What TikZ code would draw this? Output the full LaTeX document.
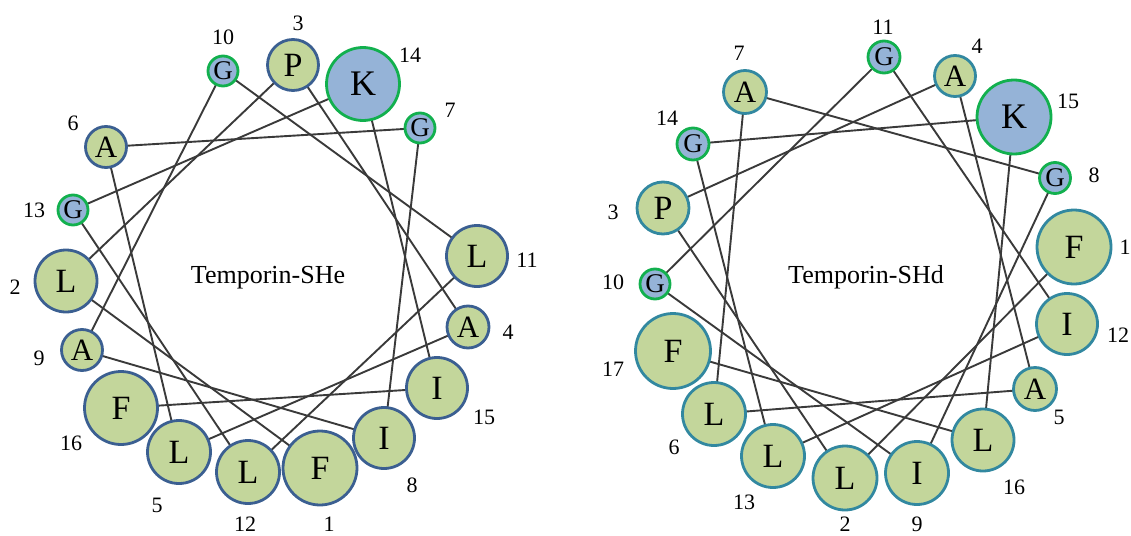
\documentclass[tikz,border=0pt]{standalone}
\usepackage{fontspec}
\setmainfont{Liberation Serif}
\pgfdeclarelayer{background}
\pgfsetlayers{background,main}
\definecolor{resgreen}{HTML}{C3D69B}
\definecolor{resblue}{HTML}{95B3D7}
\definecolor{rimblue}{HTML}{3B5F91}
\definecolor{rimgreen}{HTML}{12B04E}
\definecolor{rimteal}{HTML}{3288A0}
\definecolor{bond}{HTML}{3A3A3A}
\tikzset{
  res/.style={circle, inner sep=0pt, line width=2.8pt, text=black},
  hydA/.style={res, fill=resgreen, draw=rimblue},
  hydB/.style={res, fill=resgreen, draw=rimteal},
  pol/.style={res, fill=resblue, draw=rimgreen},
  fs/.style={font=\fontsize{#1}{#1}\selectfont},
  num/.style={inner sep=0pt, fs=22},
  title/.style={inner sep=0pt, anchor=base, fs=26},
  link/.style={draw=bond, line width=1.9pt, line cap=round}
}
\begin{document}
\begin{tikzpicture}[x=1pt, y=-1pt]
\useasboundingbox (0,0) rectangle (1131,535);

% ---------- Temporin-SHe ----------
\node[title] (tHe) at (268,283) {Temporin-SHe};
\node[hydA, minimum size=74pt, fs=34] (a1)  at (320,468) {F};
\node[hydA, minimum size=62pt, fs=34] (a2)  at (66,281)  {L};
\node[hydA, minimum size=51pt, fs=34] (a3)  at (293,65)  {P};
\node[hydA, minimum size=42pt, fs=31] (a4)  at (468,327) {A};
\node[hydA, minimum size=63pt, fs=34] (a5)  at (179,452) {L};
\node[hydA, minimum size=41pt, fs=31] (a6)  at (106,147) {A};
\node[pol,  minimum size=30pt, fs=27] (a7)  at (420,128) {G};
\node[hydA, minimum size=61pt, fs=34] (a8)  at (384,438) {I};
\node[hydA, minimum size=41pt, fs=31] (a9)  at (82,350)  {A};
\node[pol,  minimum size=30pt, fs=27] (a10) at (223,71)  {G};
\node[hydA, minimum size=61pt, fs=34] (a11) at (477,256) {L};
\node[hydA, minimum size=63pt, fs=34] (a12) at (248,472) {L};
\node[pol,  minimum size=30pt, fs=27] (a13) at (73,210)  {G};
\node[pol,  minimum size=73pt, fs=36] (a14) at (363,84)  {K};
\node[hydA, minimum size=61pt, fs=34] (a15) at (437,388) {I};
\node[hydA, minimum size=73pt, fs=34] (a16) at (121,408) {F};

\node[num] (na1)  at (329,524) {1};
\node[num] (na2)  at (15,287)  {2};
\node[num] (na3)  at (298,23)  {3};
\node[num] (na4)  at (508,332) {4};
\node[num] (na5)  at (157,505) {5};
\node[num] (na6)  at (73,123)  {6};
\node[num] (na7)  at (450,110) {7};
\node[num] (na8)  at (412,485) {8};
\node[num] (na9)  at (39,358)  {9};
\node[num] (na10) at (223,37)  {10};
\node[num] (na11) at (527,260) {11};
\node[num] (na12) at (245,524) {12};
\node[num] (na13) at (34,210)  {13};
\node[num] (na14) at (410,55)  {14};
\node[num] (na15) at (484,417) {15};
\node[num] (na16) at (71,443)  {16};

% ---------- Temporin-SHd ----------
\node[title] (tHd) at (866,283) {Temporin-SHd};
\node[hydB, minimum size=74pt, fs=34] (b1)  at (1074,247) {F};
\node[hydB, minimum size=64pt, fs=34] (b2)  at (845,478)  {L};
\node[hydB, minimum size=52pt, fs=34] (b3)  at (663,208)  {P};
\node[hydB, minimum size=41pt, fs=31] (b4)  at (955,76)   {A};
\node[hydB, minimum size=43pt, fs=31] (b5)  at (1035,389) {A};
\node[hydB, minimum size=63pt, fs=34] (b6)  at (714,414)  {L};
\node[hydB, minimum size=43pt, fs=31] (b7)  at (745,92)   {A};
\node[pol,  minimum size=31pt, fs=27] (b8)  at (1055,178) {G};
\node[hydB, minimum size=63pt, fs=34] (b9)  at (917,473)  {I};
\node[pol,  minimum size=30pt, fs=27] (b10) at (655,284)  {G};
\node[pol,  minimum size=32pt, fs=27] (b11) at (884,57)   {G};
\node[hydB, minimum size=61pt, fs=34] (b12) at (1067,324) {I};
\node[hydB, minimum size=63pt, fs=34] (b13) at (773,456)  {L};
\node[pol,  minimum size=32pt, fs=27] (b14) at (693,144)  {G};
\node[pol,  minimum size=74pt, fs=36] (b15) at (1014,117) {K};
\node[hydB, minimum size=62pt, fs=34] (b16) at (983,440)  {L};
\node[hydB, minimum size=75pt, fs=34] (b17) at (673,351)  {F};

\node[num] (nb1)  at (1125,247) {1};
\node[num] (nb2)  at (845,524)  {2};
\node[num] (nb3)  at (613,212)  {3};
\node[num] (nb4)  at (977,46)   {4};
\node[num] (nb5)  at (1059,417) {5};
\node[num] (nb6)  at (674,447)  {6};
\node[num] (nb7)  at (739,53)   {7};
\node[num] (nb8)  at (1094,175) {8};
\node[num] (nb9)  at (917,524)  {9};
\node[num] (nb10) at (613,282)  {10};
\node[num] (nb11) at (883,27)   {11};
\node[num] (nb12) at (1118,335) {12};
\node[num] (nb13) at (744,502)  {13};
\node[num] (nb14) at (667,118)  {14};
\node[num] (nb15) at (1068,101) {15};
\node[num] (nb16) at (1014,487) {16};
\node[num] (nb17) at (613,369)  {17};

% ---------- backbone links between consecutive residues ----------
\begin{pgfonlayer}{background}
\foreach \i [evaluate=\i as \j using int(\i+1)] in {1,...,15}
  \draw[link] (a\i.center) -- (a\j.center);
\foreach \i [evaluate=\i as \j using int(\i+1)] in {1,...,16}
  \draw[link] (b\i.center) -- (b\j.center);
\end{pgfonlayer}
\end{tikzpicture}
\end{document}
